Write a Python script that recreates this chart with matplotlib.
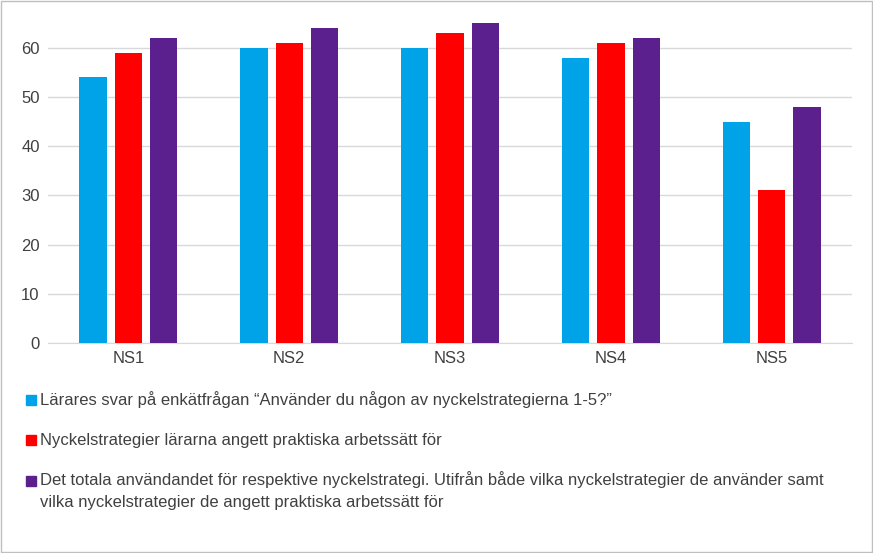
import numpy as np
import matplotlib
matplotlib.use("Agg")
import matplotlib.pyplot as plt
from matplotlib.patches import Rectangle

categories = ["NS1", "NS2", "NS3", "NS4", "NS5"]
svar = [54, 60, 60, 58, 45]
praktiska = [59, 61, 63, 61, 31]
totalt = [62, 64, 65, 62, 48]
labels = [
    "Lärares svar på enkätfrågan \u201cAnvänder du någon av nyckelstrategierna 1-5?\u201d",
    "Nyckelstrategier lärarna angett praktiska arbetssätt för",
    "Det totala användandet för respektive nyckelstrategi. Utifrån både vilka nyckelstrategier de använder samt\nvilka nyckelstrategier de angett praktiska arbetssätt för",
]
colors = ["#00A2E8", "#FF0000", "#5B1F8E"]

plt.rcParams["font.family"] = "Liberation Sans"
fig = plt.figure(figsize=(8.73, 5.53), dpi=100)
ax = fig.add_axes([0.055, 0.38, 0.921, 0.578])

x = np.arange(len(categories))
w = 0.17
for i, (vals, c) in enumerate(zip([svar, praktiska, totalt], colors)):
    ax.bar(x + (i - 1) * 0.22, vals, width=w, color=c, zorder=3)

ax.set_xlim(-0.5, len(categories) - 0.5)
ax.set_ylim(0, 65)
ax.set_yticks(range(0, 61, 10))
ax.set_xticks(x)
ax.set_xticklabels(categories)
ax.grid(axis="y", color="#D9D9D9", linewidth=1, zorder=0)
for s in ["top", "right", "left"]:
    ax.spines[s].set_visible(False)
ax.spines["bottom"].set_color("#D9D9D9")
ax.tick_params(length=0, labelsize=12, colors="#404040", pad=6)

ys = [400, 440, 481]
for y, lab, c in zip(ys, labels, colors):
    fig.patches.append(Rectangle((26 / 873, 1 - (y + 5) / 553), 10 / 873, 10 / 553,
                                 transform=fig.transFigure, color=c))
    if "\n" in lab:
        fig.text(40 / 873, 1 - (y - 10) / 553, lab, fontsize=12, color="#404040",
                 va="top", linespacing=1.55)
    else:
        fig.text(40 / 873, 1 - y / 553, lab, fontsize=12, color="#404040", va="center")
fig.patches.append(Rectangle((0.001, 0.001), 0.998, 0.998, transform=fig.transFigure,
                             fill=False, edgecolor="#BFBFBF", linewidth=1))
fig.savefig("out.png", dpi=100)
